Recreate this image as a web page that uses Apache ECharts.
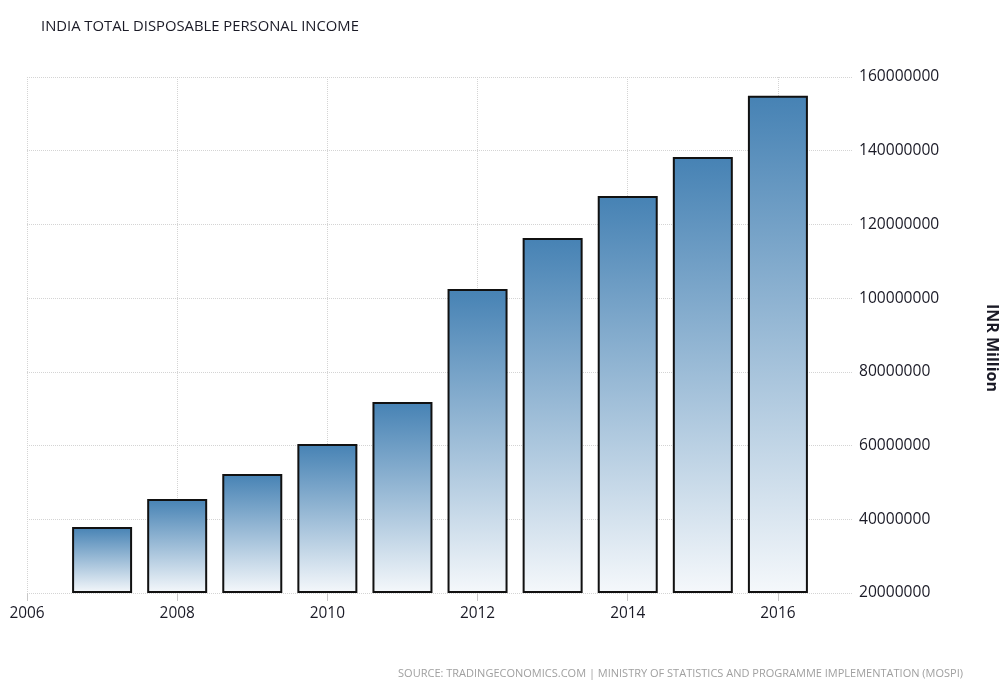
<!DOCTYPE html>
<html>
<head>
<meta charset="utf-8">
<script src="https://cdn.jsdelivr.net/npm/echarts@6/dist/echarts.min.js"></script>
<style>
html,body{margin:0;padding:0;background:#fff;}
#chart{width:1002px;height:687px;}
</style>
</head>
<body>
<div id="chart"></div>
<script>
// ---- data ----
const years = [2007, 2008, 2009, 2010, 2011, 2012, 2013, 2014, 2015, 2016];
const income = [37900000, 45500000, 52300000, 60400000, 71800000, 102500000, 116300000, 127700000, 138300000, 154900000];
const axisYears = [2006, 2007, 2008, 2009, 2010, 2011, 2012, 2013, 2014, 2015, 2016, 2017];
const yMin = 20000000;
const yMax = 160000000;
const yStep = 20000000;
const titleText = 'INDIA TOTAL DISPOSABLE PERSONAL INCOME';
const sourceText = 'SOURCE: TRADINGECONOMICS.COM | MINISTRY OF STATISTICS AND PROGRAMME IMPLEMENTATION (MOSPI)';
const unitText = 'INR Million';

// ---- build ----
const cats = axisYears.map(String);
const baseData = axisYears.map(y => years.indexOf(y) >= 0 ? yMin : null);
const barData = axisYears.map(y => {
  const i = years.indexOf(y);
  return i >= 0 ? income[i] - yMin : null;
});

const font = '"Open Sans", sans-serif';
const chart = echarts.init(document.getElementById('chart'), null, {renderer: 'canvas'});
chart.setOption({
  animation: false,
  backgroundColor: '#fff',
  title: [
    {text: titleText, left: 36, top: 14,
     textStyle: {fontFamily: font, fontSize: 14.8, fontWeight: 'normal', color: '#1a1a26'}},
    {text: sourceText, right: 34, bottom: 3,
     textStyle: {fontFamily: font, fontSize: 11, fontWeight: 'normal', color: '#a0a0a0'}}
  ],
  grid: {left: 27, right: 149, top: 77, bottom: 94, containLabel: false, outerBoundsMode: 'none'},
  xAxis: {
    type: 'category',
    data: cats,
    boundaryGap: false,
    axisLine: {show: false},
    axisTick: {show: true, interval: 1, length: 8, lineStyle: {color: '#c8c8c8'}},
    axisLabel: {interval: 1, margin: 13, fontFamily: font, fontSize: 15.4, color: '#1a1a26'},
    splitLine: {show: true, interval: 1, lineStyle: {color: '#d4d4d4', type: 'dotted', width: 1}}
  },
  yAxis: {
    type: 'value',
    position: 'right',
    min: yMin, max: yMax, interval: yStep,
    name: unitText,
    nameLocation: 'middle',
    nameRotate: -90,
    nameGap: 131,
    nameTextStyle: {fontFamily: font, fontSize: 16, fontWeight: 'bold', color: '#1a1a26', padding: [0, 0, 0, 26]},
    axisLine: {show: false},
    axisTick: {show: false},
    axisLabel: {margin: 6, fontFamily: font, fontSize: 15.6, color: '#1a1a26',
                formatter: v => String(v)},
    splitLine: {show: true, lineStyle: {color: '#d4d4d4', type: 'dotted', width: 1}}
  },
  series: [
    {type: 'bar', stack: 'a', data: baseData, barWidth: 60,
     itemStyle: {color: 'transparent', borderWidth: 0}, silent: true},
    {type: 'bar', stack: 'a', data: barData, barWidth: 60,
     itemStyle: {
       color: new echarts.graphic.LinearGradient(0, 0, 0, 1, [
         {offset: 0, color: '#4682b4'},
         {offset: 1, color: '#f5f8fb'}
       ]),
       borderColor: '#111', borderWidth: 2
     }}
  ]
});
</script>
</body>
</html>
